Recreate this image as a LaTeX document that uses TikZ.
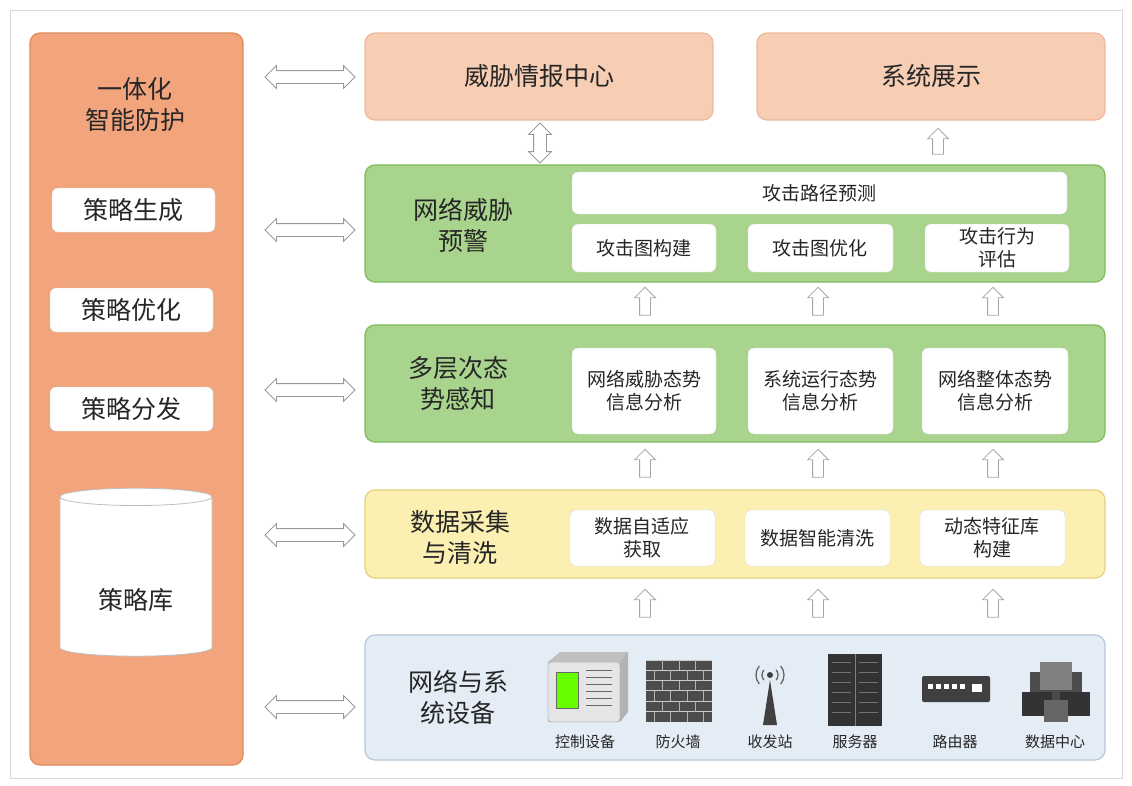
\documentclass[tikz,border=0pt]{standalone}
\usepackage{fontspec}
\setmainfont{Noto Sans CJK SC}
\usetikzlibrary{shapes.arrows,shapes.geometric}
\definecolor{org}{HTML}{F2A57C}
\definecolor{orgd}{HTML}{E08A5C}
\definecolor{peach}{HTML}{F7CDB4}
\definecolor{grn}{HTML}{A9D48E}
\definecolor{grnd}{HTML}{7DBB5C}
\definecolor{yel}{HTML}{FBEFB2}
\definecolor{yeld}{HTML}{E6CF78}
\definecolor{blu}{HTML}{E4ECF5}
\definecolor{blud}{HTML}{B7C7DA}
\begin{document}
\begin{tikzpicture}[x=1pt,y=-1pt,
  big/.style={font=\fontsize{25}{31}\selectfont,align=center,text=black!85},
  mid/.style={font=\fontsize{19}{23}\selectfont,align=center,text=black!85},
  sm/.style={font=\fontsize{15}{18}\selectfont,text=black!85},
  wbox/.style={draw=black!15,fill=white,rounded corners=6pt},
  darr/.style={double arrow,draw=black!40,fill=white,minimum height=90pt,minimum width=0pt,double arrow head extend=5pt,inner sep=6pt,line width=0.8pt},
  uarr/.style={single arrow,draw=black!35,fill=white,minimum height=28pt,minimum width=0pt,single arrow head extend=5pt,inner sep=5pt,shape border rotate=90,line width=0.8pt},
  lay/.style={rounded corners=10pt,line width=1.2pt}]
\useasboundingbox (0,0) rectangle (1132,785);
\fill[white] (0,0) rectangle (1132,785);
\draw[black!15] (10,10) rectangle (1122,778);
% left panel
\draw[lay,draw=orgd,fill=org] (30,33) rectangle (243,765);
\node[big] (t) at (135,105) {一体化\\智能防护};
\draw[wbox] (52,188) rectangle (215,232); \node[big] (s1) at (133,210) {策略生成};
\draw[wbox] (50,288) rectangle (213,332); \node[big] (s2) at (131,310) {策略优化};
\draw[wbox] (50,387) rectangle (213,431); \node[big] (s3) at (131,409) {策略分发};
\node[cylinder,shape border rotate=90,draw=black!25,fill=white,minimum width=152pt,minimum height=168pt,aspect=2.6,line width=0.8pt] (db) at (136,578) {};
\node[big] (dbl) at (136,600) {策略库};
% double arrows
\foreach \y/\n in {77/a1,230/a2,390/a3,535/a4,707/a5} \node[darr] (\n) at (310,\y) {};
% top boxes
\draw[lay,draw=orgd!60,fill=peach] (365,33) rectangle (713,120); \node[big] (ti) at (539,76) {威胁情报中心};
\draw[lay,draw=orgd!60,fill=peach] (757,33) rectangle (1105,120); \node[big] (sy) at (931,76) {系统展示};
\node[darr,minimum height=40pt,shape border rotate=90] (v1) at (540,143) {};
\node[uarr,minimum height=26pt] (v2) at (938,144) {};
% green 1
\draw[lay,draw=grnd,fill=grn] (365,165) rectangle (1105,282);
\node[big] (g1) at (463,225) {网络威胁\\预警};
\draw[wbox] (572,172) rectangle (1067,214); \node[mid] (p) at (819,193) {攻击路径预测};
\draw[wbox] (572,224) rectangle (716,272); \node[mid] (p1) at (644,248) {攻击图构建};
\draw[wbox] (748,224) rectangle (893,272); \node[mid] (p2) at (820,248) {攻击图优化};
\draw[wbox] (925,224) rectangle (1069,272); \node[mid] (p3) at (997,248) {攻击行为\\评估};
\foreach \x in {645,818,993} \node[uarr] at (\x,304) {};
% green 2
\draw[lay,draw=grnd,fill=grn] (365,325) rectangle (1105,442);
\node[big] (g2) at (458,383) {多层次态\\势感知};
\draw[wbox] (572,348) rectangle (716,434); \node[mid] (q1) at (644,391) {网络威胁态势\\信息分析};
\draw[wbox] (748,348) rectangle (893,434); \node[mid] (q2) at (820,391) {系统运行态势\\信息分析};
\draw[wbox] (922,348) rectangle (1068,434); \node[mid] (q3) at (995,391) {网络整体态势\\信息分析};
\foreach \x in {645,818,993} \node[uarr] at (\x,466) {};
% yellow
\draw[lay,draw=yeld,fill=yel] (365,490) rectangle (1105,578);
\node[big] (y0) at (460,537) {数据采集\\与清洗};
\draw[wbox] (570,510) rectangle (715,566); \node[mid] (r1) at (642,538) {数据自适应\\获取};
\draw[wbox] (745,510) rectangle (890,566); \node[mid] (r2) at (817,538) {数据智能清洗};
\draw[wbox] (920,510) rectangle (1065,566); \node[mid] (r3) at (992,538) {动态特征库\\构建};
\foreach \x in {645,818,993} \node[uarr] at (\x,606) {};
% blue
\draw[lay,draw=blud,fill=blu] (365,635) rectangle (1105,760);
\node[big] (b0) at (458,697) {网络与系\\统设备};
% icons
\draw[fill=black!10,draw=black!50,rounded corners=3pt] (548,662) rectangle (620,722);
\fill[black!25] (548,662) -- (560,652) -- (628,652) -- (620,662) -- cycle;
\fill[black!30] (620,662) -- (628,652) -- (628,712) -- (620,722) -- cycle;
\draw[fill=green!60!yellow,draw=black!60] (556,672) rectangle (578,708);
\foreach \i in {0,...,5} \draw[black!60] (586,670+\i*7) -- (612,670+\i*7);
\node[sm] (l1) at (585,742) {控制设备};
\fill[black!70] (646,660) rectangle (712,722);
\foreach \j in {0,...,5} {\draw[white!80!black,line width=1pt] (646,660+\j*10.3) -- (712,660+\j*10.3);}
\foreach \j in {0,2,4} \foreach \i in {1,2,3} \draw[black!30] (646+\i*16.5,660+\j*10.3) -- ++(0,10.3);
\foreach \j in {1,3,5} \foreach \i in {0,1,2,3} \draw[black!30] (654+\i*16.5,660+\j*10.3) -- ++(0,10.3);
\node[sm] (l2) at (678,742) {防火墙};
\fill[black!75] (763,725) -- (770,680) -- (777,725) -- cycle;
\fill[black!75] (770,675) circle (3);
\foreach \r in {8,14} {\draw[black!60,line width=1.3pt] (770,675) ++(140:\r) arc (140:220:\r);
 \draw[black!60,line width=1.3pt] (770,675) ++(40:\r) arc (40:-40:\r);}
\node[sm] (l3) at (770,742) {收发站};
\fill[black!80] (828,654) rectangle (882,726);
\draw[black!50] (855,654) -- (855,726);
\foreach \i in {0,...,5} {\draw[black!55] (832,662+\i*10) -- (851,662+\i*10); \draw[black!55] (859,662+\i*10) -- (878,662+\i*10);}
\node[sm] (l4) at (855,742) {服务器};
\fill[black!75,rounded corners=2pt] (922,676) rectangle (990,702);
\foreach \i in {0,...,4} \fill[white] (928+\i*8,684) rectangle ++(5,5);
\fill[white] (972,684) rectangle ++(10,8);
\node[sm] (l5) at (955,742) {路由器};
\fill[black!70] (1030,672) rectangle (1082,714);
\fill[black!50] (1040,662) rectangle (1072,690);
\fill[black!80] (1022,692) rectangle (1052,716);
\fill[black!80] (1060,692) rectangle (1090,716);
\fill[black!60] (1044,700) rectangle (1068,722);
\node[sm] (l6) at (1055,742) {数据中心};
\end{tikzpicture}
\end{document}
